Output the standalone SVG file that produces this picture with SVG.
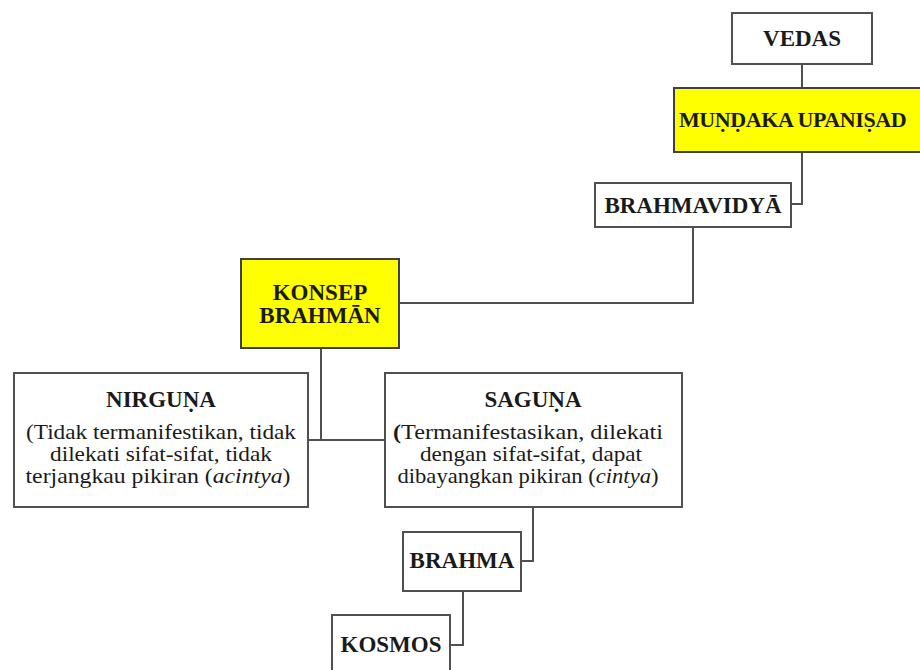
<svg xmlns="http://www.w3.org/2000/svg" width="920" height="670" viewBox="0 0 920 670">
<style>
.box{fill:#fff;stroke:#505050;stroke-width:2}
.hl{fill:#ffff00;stroke:#404040;stroke-width:2}
.t{font-family:'Liberation Serif','DejaVu Serif',serif;font-weight:bold;font-size:23px;fill:#1a1a1a;text-anchor:middle}
.b{font-family:'Liberation Serif','DejaVu Serif',serif;font-size:21px;fill:#1a1a1a;text-anchor:middle}
.c{fill:none;stroke:#505050;stroke-width:2}
</style>
<rect width="920" height="670" fill="#fff"/>
<g id="connectors">
<path class="c" d="M802,64 V88"/>
<path class="c" d="M802,152 V204 H791"/>
<path class="c" d="M693,227 V303 H399"/>
<path class="c" d="M321,348 V440"/>
<path class="c" d="M308,440 H385"/>
<path class="c" d="M533,507 V561 H521"/>
<path class="c" d="M463,591 V645 H450"/>
</g>
<g id="vedas">
<rect class="box" x="732" y="13" width="140" height="51"/>
<text class="t" x="802" y="46">VEDAS</text>
</g>
<g id="mundaka">
<rect class="hl" x="674" y="88" width="266" height="64"/>
<text class="t" x="679" y="127" style="text-anchor:start;font-size:22px" letter-spacing="-0.4">MUṆḌAKA UPANIṢAD</text>
</g>
<g id="brahmavidya">
<rect class="box" x="595" y="183" width="196" height="44"/>
<text class="t" x="693" y="213">BRAHMAVIDYĀ</text>
</g>
<g id="konsep">
<rect class="hl" x="241" y="259" width="158" height="89"/>
<text class="t" x="320" y="300">KONSEP</text>
<text class="t" x="320" y="323">BRAHMĀN</text>
</g>
<g id="nirguna">
<rect class="box" x="14" y="373" width="294" height="134"/>
<text class="t" x="161" y="407">NIRGUṆA</text>
<text class="b" x="161" y="439" textLength="270" lengthAdjust="spacingAndGlyphs">(Tidak termanifestikan, tidak</text>
<text class="b" x="161" y="461" textLength="222" lengthAdjust="spacingAndGlyphs">dilekati sifat-sifat, tidak</text>
<text class="b" x="158" y="483" textLength="265" lengthAdjust="spacingAndGlyphs">terjangkau pikiran (<tspan font-style="italic">acintya</tspan>)</text>
</g>
<g id="saguna">
<rect class="box" x="385" y="373" width="297" height="134"/>
<text class="t" x="533" y="407">SAGUṆA</text>
<text class="b" x="528" y="439" textLength="270" lengthAdjust="spacingAndGlyphs"><tspan font-weight="bold">(</tspan>Termanifestasikan, dilekati</text>
<text class="b" x="531" y="461" textLength="222" lengthAdjust="spacingAndGlyphs">dengan sifat-sifat, dapat</text>
<text class="b" x="528" y="483" textLength="261" lengthAdjust="spacingAndGlyphs">dibayangkan pikiran (<tspan font-style="italic">cintya</tspan>)</text>
</g>
<g id="brahma">
<rect class="box" x="403" y="532" width="118" height="59"/>
<text class="t" x="462" y="568">BRAHMA</text>
</g>
<g id="kosmos">
<rect class="box" x="332" y="615" width="118" height="70"/>
<text class="t" x="391" y="652">KOSMOS</text>
</g>
</svg>
